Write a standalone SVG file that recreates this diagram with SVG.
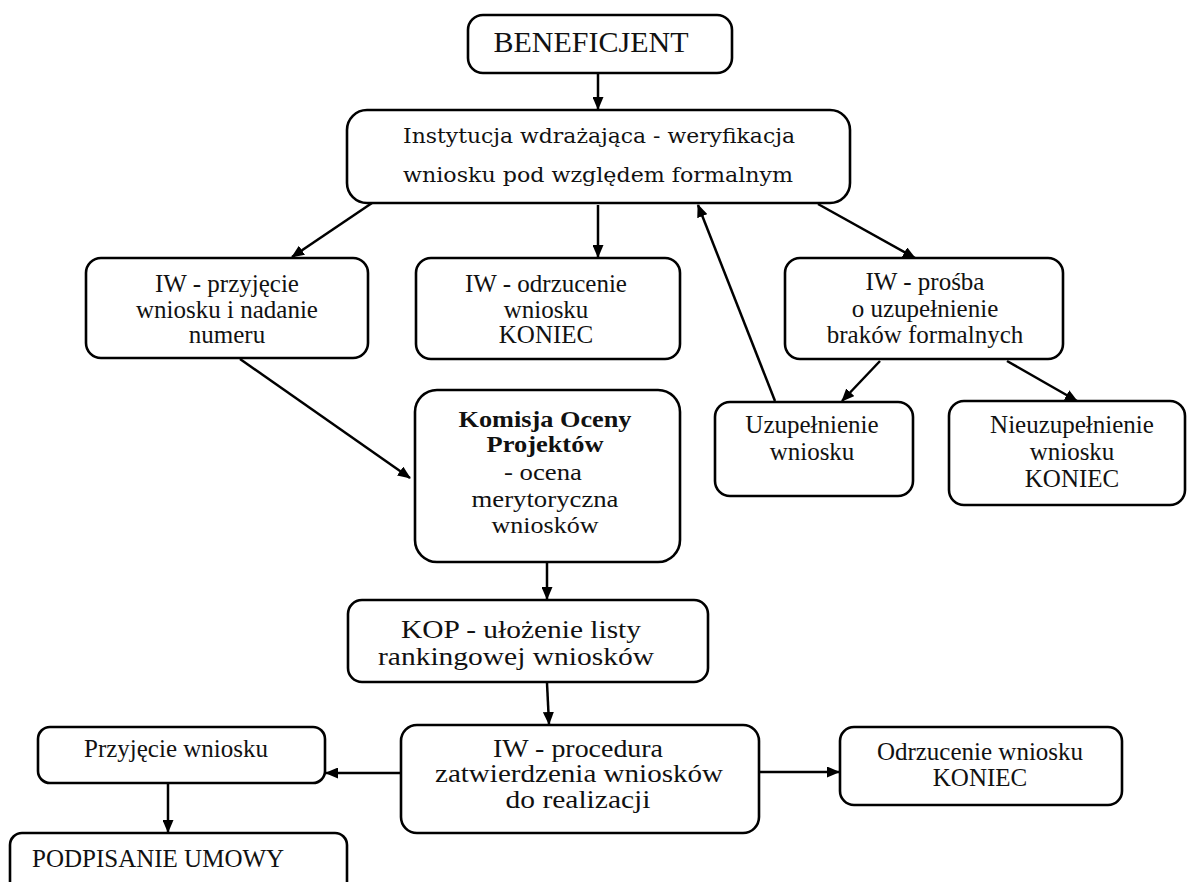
<svg xmlns="http://www.w3.org/2000/svg" width="1187" height="882" viewBox="0 0 1187 882">
  <defs>
    <marker id="arrow" viewBox="0 0 13 11" refX="12" refY="5.5" markerWidth="13" markerHeight="11" markerUnits="userSpaceOnUse" orient="auto">
      <path d="M0,0 L13,5.5 L0,11 z" fill="#000"/>
    </marker>
    <style>
      .box { fill: #fff; stroke: #000; stroke-width: 2.6; }
      .t { font-family: "Liberation Serif", "Times New Roman", serif; font-size: 25px; fill: #111; text-anchor: middle; }
      .b { font-weight: bold; }
      .wide { font-family: "DejaVu Serif", "Liberation Serif", serif; font-size: 20px; fill: #111; text-anchor: middle; }
      .conn line { stroke: #000; stroke-width: 2.5; marker-end: url(#arrow); }
    </style>
  </defs>
  <rect width="1187" height="882" fill="#fff"/>

  <g id="beneficjent">
    <rect class="box" x="468" y="15" width="264" height="58" rx="15"/>
    <text class="t" x="591" y="52" style="font-size:30px">BENEFICJENT</text>
  </g>

  <g id="instytucja">
    <rect class="box" x="347" y="110" width="503" height="93" rx="20"/>
    <text class="wide" x="599" y="143" textLength="392" lengthAdjust="spacingAndGlyphs">Instytucja wdrażająca - weryfikacja</text>
    <text class="wide" x="598" y="182" textLength="390" lengthAdjust="spacingAndGlyphs">wniosku pod względem formalnym</text>
  </g>

  <g id="iw-przyjecie">
    <rect class="box" x="86" y="258" width="282" height="100" rx="15"/>
    <text class="t" x="227" y="292">IW - przyjęcie</text>
    <text class="t" x="227" y="318">wniosku i nadanie</text>
    <text class="t" x="227" y="343">numeru</text>
  </g>

  <g id="iw-odrzucenie">
    <rect class="box" x="416" y="258" width="264" height="101" rx="15"/>
    <text class="t" x="546" y="292">IW - odrzucenie</text>
    <text class="t" x="546" y="318">wniosku</text>
    <text class="t" x="546" y="343">KONIEC</text>
  </g>

  <g id="iw-prosba">
    <rect class="box" x="785" y="258" width="278" height="101" rx="15"/>
    <text class="t" x="925" y="290">IW - prośba</text>
    <text class="t" x="925" y="317">o uzupełnienie</text>
    <text class="t" x="925" y="343">braków formalnych</text>
  </g>

  <g id="uzupelnienie">
    <rect class="box" x="715" y="402" width="198" height="94" rx="15"/>
    <text class="t" x="812" y="433">Uzupełnienie</text>
    <text class="t" x="812" y="460">wniosku</text>
  </g>

  <g id="nieuzupelnienie">
    <rect class="box" x="949" y="401" width="236" height="104" rx="15"/>
    <text class="t" x="1072" y="433">Nieuzupełnienie</text>
    <text class="t" x="1072" y="460">wniosku</text>
    <text class="t" x="1072" y="487">KONIEC</text>
  </g>

  <g id="komisja">
    <rect class="box" x="415" y="390" width="265" height="172" rx="22"/>
    <text class="t b" x="545" y="427" style="font-size:24px" textLength="173" lengthAdjust="spacingAndGlyphs">Komisja Oceny</text>
    <text class="t b" x="545" y="452" style="font-size:24px" textLength="117" lengthAdjust="spacingAndGlyphs">Projektów</text>
    <text class="t" x="543" y="480" style="font-size:24px" textLength="78" lengthAdjust="spacingAndGlyphs">- ocena</text>
    <text class="t" x="545" y="507" style="font-size:24px" textLength="147" lengthAdjust="spacingAndGlyphs">merytoryczna</text>
    <text class="t" x="545" y="533" style="font-size:24px" textLength="107" lengthAdjust="spacingAndGlyphs">wniosków</text>
  </g>

  <g id="kop">
    <rect class="box" x="348" y="600" width="360" height="82" rx="14"/>
    <text class="t" x="521" y="638" textLength="240" lengthAdjust="spacingAndGlyphs">KOP - ułożenie listy</text>
    <text class="t" x="516" y="665" textLength="276" lengthAdjust="spacingAndGlyphs">rankingowej wniosków</text>
  </g>

  <g id="przyjecie">
    <rect class="box" x="38" y="727" width="287" height="56" rx="12"/>
    <text class="t" x="176" y="757">Przyjęcie wniosku</text>
  </g>

  <g id="procedura">
    <rect class="box" x="401" y="725" width="358" height="108" rx="16"/>
    <text class="t" x="578" y="757" textLength="170" lengthAdjust="spacingAndGlyphs">IW - procedura</text>
    <text class="t" x="579" y="782" textLength="288" lengthAdjust="spacingAndGlyphs">zatwierdzenia wniosków</text>
    <text class="t" x="578" y="808" textLength="145" lengthAdjust="spacingAndGlyphs">do realizacji</text>
  </g>

  <g id="odrzucenie">
    <rect class="box" x="840" y="727" width="282" height="78" rx="14"/>
    <text class="t" x="980" y="760">Odrzucenie wniosku</text>
    <text class="t" x="980" y="786">KONIEC</text>
  </g>

  <g id="podpisanie">
    <rect class="box" x="10" y="833" width="337" height="70" rx="12"/>
    <text class="t" x="32" y="867" style="text-anchor:start">PODPISANIE UMOWY</text>
  </g>

  <g id="connectors" class="conn">
    <line x1="598" y1="73" x2="598" y2="109"/>
    <line x1="372" y1="203" x2="292" y2="257"/>
    <line x1="598" y1="205" x2="598" y2="257"/>
    <line x1="818" y1="204" x2="915" y2="258"/>
    <line x1="775" y1="401" x2="698" y2="205"/>
    <line x1="880" y1="361" x2="842" y2="401"/>
    <line x1="1007" y1="361" x2="1077" y2="401"/>
    <line x1="240" y1="359" x2="410" y2="478"/>
    <line x1="547" y1="562" x2="547" y2="599"/>
    <line x1="547" y1="683" x2="549" y2="724"/>
    <line x1="401" y1="773" x2="326" y2="773"/>
    <line x1="759" y1="772" x2="839" y2="772"/>
    <line x1="168" y1="784" x2="168" y2="832"/>
  </g>
</svg>
